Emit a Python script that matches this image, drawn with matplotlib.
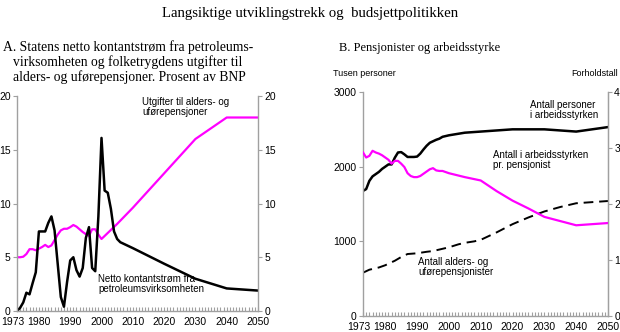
import matplotlib
matplotlib.use("Agg")
import matplotlib.pyplot as plt
import matplotlib.transforms as mtransforms
from matplotlib.ticker import FixedLocator, MultipleLocator

# ---------------- Data ----------------
# Panel A: net cash flow from petroleum (% of GDP)
cash_years = [1973, 1974, 1975, 1976, 1977, 1978, 1979, 1980, 1981, 1982, 1983, 1984,
              1985, 1986, 1987, 1988, 1989, 1990, 1991, 1992, 1993, 1994, 1995, 1996,
              1997, 1998, 1999, 2000, 2001, 2002, 2003, 2004, 2005, 2006,
              2010, 2020, 2030, 2040, 2050]
cash_vals = [0.0, 0.3, 0.8, 1.7, 1.55, 2.6, 3.6, 7.4, 7.4, 7.4, 8.2, 8.8,
             7.5, 4.4, 1.3, 0.4, 2.7, 4.7, 5.0, 3.8, 3.2, 4.0, 6.8, 7.8,
             4.0, 3.7, 8.8, 16.1, 11.2, 11.0, 9.5, 7.4, 6.7, 6.4,
             5.85, 4.4, 3.0, 2.1, 1.9]

# Panel A: pension expenditure (% of GDP)
pens_years = [1973, 1974, 1975, 1976, 1977, 1978, 1979, 1980, 1981, 1982, 1983, 1984,
              1985, 1986, 1987, 1988, 1989, 1990, 1991, 1992, 1993, 1994, 1995, 1996,
              1997, 1998, 1999, 2000, 2005, 2010, 2020, 2030, 2040, 2050]
pens_vals = [5.0, 5.0, 5.05, 5.3, 5.75, 5.75, 5.65, 5.8, 5.95, 6.15, 5.95, 6.1,
             6.6, 7.1, 7.5, 7.65, 7.65, 7.8, 8.0, 7.85, 7.6, 7.35, 7.15, 7.0,
             7.6, 7.6, 7.1, 6.7, 8.1, 9.6, 12.8, 16.0, 18.0, 18.0]

# Panel B: labour force (thousands)
lab_years = [1973, 1974, 1975, 1976, 1977, 1978, 1979, 1980, 1981, 1982, 1983, 1984,
             1985, 1986, 1987, 1988, 1989, 1990, 1991, 1992, 1993, 1994, 1995, 1996,
             1997, 1998, 1999, 2000, 2005, 2010, 2020, 2030, 2040, 2050]
lab_vals = [1675, 1700, 1810, 1870, 1900, 1930, 1970, 2000, 2030, 2030, 2120, 2190,
            2195, 2165, 2130, 2130, 2130, 2135, 2175, 2230, 2280, 2320, 2340, 2360,
            2375, 2400, 2410, 2420, 2455, 2470, 2500, 2500, 2470, 2530]

# Panel B: pensioners (thousands)
pensioner_years = [1973, 1975, 1978, 1980, 1983, 1985, 1987, 1990, 1993, 1995, 1998,
                   2000, 2003, 2005, 2008, 2010, 2015, 2020, 2025, 2030, 2035, 2040, 2050]
pensioner_vals = [580, 620, 650, 680, 740, 790, 830, 840, 860, 870, 900,
                  920, 960, 980, 1000, 1020, 1120, 1230, 1320, 1400, 1460, 1510, 1540]

# Panel B: labour force per pensioner (ratio)
ratio_years = [1973, 1974, 1975, 1976, 1977, 1978, 1979, 1980, 1981, 1982, 1983, 1984,
               1985, 1986, 1987, 1988, 1989, 1990, 1991, 1992, 1993, 1994, 1995, 1996,
               1997, 1998, 1999, 2000, 2005, 2010, 2015, 2020, 2025, 2030, 2040, 2050]
ratio_vals = [2.92, 2.83, 2.86, 2.95, 2.92, 2.90, 2.87, 2.83, 2.79, 2.72, 2.77, 2.77,
              2.72, 2.66, 2.55, 2.50, 2.48, 2.48, 2.50, 2.54, 2.58, 2.62, 2.64, 2.60,
              2.59, 2.59, 2.57, 2.55, 2.48, 2.42, 2.23, 2.06, 1.92, 1.77, 1.62, 1.66]

major_years = [1973, 1980, 1990, 2000, 2010, 2020, 2030, 2040, 2050]

# ---------------- Style ----------------
SANS = ["Liberation Sans", "DejaVu Sans"]
SERIF = ["Liberation Serif", "DejaVu Serif"]
GRAY = "#a0a0a0"
MAG = "#ff00ff"
TICKFS = 7.5

fig = plt.figure(figsize=(6.2, 3.32), dpi=100)


def style_axes(ax):
    ax.set_xlim(1973, 2050)
    ax.spines["top"].set_visible(False)
    for s in ("left", "right", "bottom"):
        ax.spines[s].set_color(GRAY)
        ax.spines[s].set_linewidth(1.0)
    ax.xaxis.set_major_locator(FixedLocator(major_years))
    ax.xaxis.set_minor_locator(MultipleLocator(1))
    ax.tick_params(axis="x", which="both", direction="in", color=GRAY,
                   length=3, width=0.8, labelsize=TICKFS, pad=4)
    fig.canvas.draw()
    labs = ax.get_xticklabels()
    for lab in labs:
        lab.set_family(SANS)
    # first label sits slightly left of its tick, as in the original
    off = mtransforms.ScaledTranslation(-4 / 100, 0, fig.dpi_scale_trans)
    labs[0].set_transform(labs[0].get_transform() + off)


# ---------------- Panel A ----------------
axA = fig.add_axes([17 / 620, 1 - 311 / 332, 241 / 620, 215 / 332])
axA.set_ylim(0, 20)
axA.set_yticks([0, 5, 10, 15, 20])
style_axes(axA)
axA.tick_params(axis="y", which="both", direction="out", color=GRAY, length=3,
                width=0.8, labelsize=TICKFS, left=True, right=True,
                labelleft=True, labelright=True, pad=1.5)
axA.plot(pens_years, pens_vals, color=MAG, lw=1.6, solid_joinstyle="round")
axA.plot(cash_years, cash_vals, color="black", lw=1.8, solid_joinstyle="round")
for t in axA.yaxis.get_major_ticks():
    t.label1.set_family(SANS)
    t.label2.set_family(SANS)

axA.text(2012.9, 19.9, "Utgifter til alders- og\nuførepensjoner", family=SANS,
         fontsize=7, va="top", ha="left", linespacing=1.0)
axA.text(1998.9, 3.45, "Netto kontantstrøm fra\npetroleumsvirksomheten", family=SANS,
         fontsize=7, va="top", ha="left", linespacing=1.0)

# ---------------- Panel B ----------------
axB = fig.add_axes([363 / 620, 1 - 316 / 332, 245 / 620, 224 / 332])
axB.set_ylim(0, 3000)
axB.set_yticks([0, 1000, 2000, 3000])
style_axes(axB)
axB.tick_params(axis="y", direction="out", color=GRAY, length=3, width=0.8,
                labelsize=TICKFS, pad=1.5)
axB.plot(lab_years, lab_vals, color="black", lw=1.8, solid_joinstyle="round")
axB.plot(pensioner_years, pensioner_vals, color="black", lw=1.4,
         linestyle=(0, (5, 3)))
for t in axB.yaxis.get_major_ticks():
    t.label1.set_family(SANS)

axB2 = axB.twinx()
axB2.set_ylim(0, 4)
axB2.set_yticks([0, 1, 2, 3, 4])
for s in ("top", "left", "bottom"):
    axB2.spines[s].set_visible(False)
axB2.spines["right"].set_color(GRAY)
axB2.tick_params(axis="y", direction="out", color=GRAY, length=3, width=0.8,
                 labelsize=TICKFS, pad=1.5)
axB2.plot(ratio_years, ratio_vals, color=MAG, lw=1.6, solid_joinstyle="round")
for t in axB2.yaxis.get_major_ticks():
    t.label2.set_family(SANS)

axB.text(2025.5, 2890, "Antall personer\ni arbeidsstyrken", family=SANS,
         fontsize=7, va="top", ha="left", linespacing=1.0)
axB.text(2013.9, 2220, "Antall i arbeidsstyrken\npr. pensjonist", family=SANS,
         fontsize=7, va="top", ha="left", linespacing=1.0)
axB.text(1990.3, 790, "Antall alders- og\nuførepensjonister", family=SANS,
         fontsize=7, va="top", ha="left", linespacing=1.0)

# ---------------- Titles ----------------
fig.text(310 / 620, 1 - 14 / 332, "Langsiktige utviklingstrekk og  budsjettpolitikken",
         family=SERIF, fontsize=10.6, ha="center", va="center")
fig.text(3 / 620, 1 - 47 / 332, "A. Statens netto kontantstrøm fra petroleums-",
         family=SERIF, fontsize=9.8, ha="left", va="center")
fig.text(13 / 620, 1 - 62 / 332, "virksomheten og folketrygdens utgifter til",
         family=SERIF, fontsize=9.8, ha="left", va="center")
fig.text(13 / 620, 1 - 77 / 332, "alders- og uførepensjoner. Prosent av BNP",
         family=SERIF, fontsize=9.8, ha="left", va="center")
fig.text(420 / 620, 1 - 48 / 332, "B. Pensjonister og arbeidsstyrke",
         family=SERIF, fontsize=9, ha="center", va="center")
fig.text(333 / 620, 1 - 73 / 332, "Tusen personer", family=SANS, fontsize=6.5,
         ha="left", va="center")
fig.text(618 / 620, 1 - 73 / 332, "Forholdstall", family=SANS, fontsize=6.5,
         ha="right", va="center")

fig.savefig("out.png", dpi=100)
